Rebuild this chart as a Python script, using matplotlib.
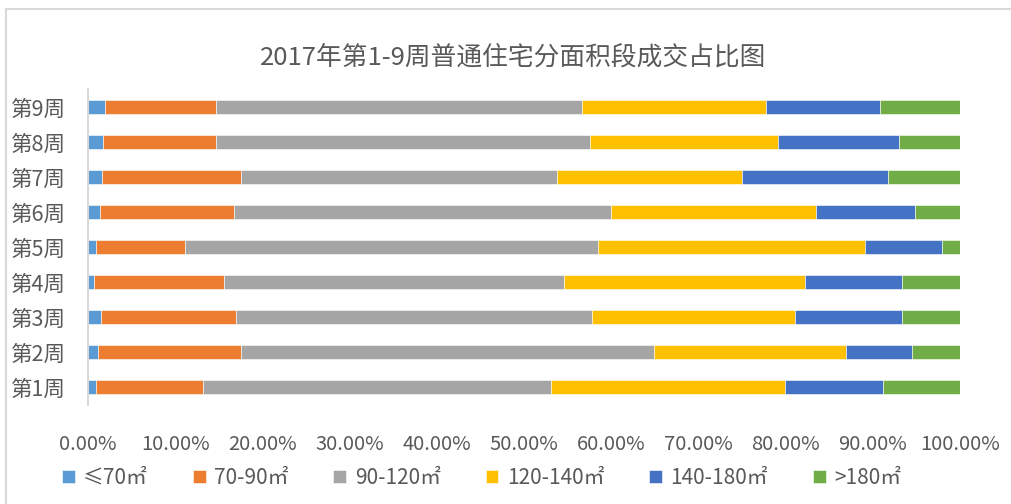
import numpy as np
import matplotlib.pyplot as plt
from matplotlib.lines import Line2D

plt.rcParams['font.family'] = ['Noto Sans CJK SC', 'DejaVu Sans']

# weeks, bottom to top
weeks = ['第1周', '第2周', '第3周', '第4周', '第5周', '第6周', '第7周', '第8周', '第9周']
series = ['≤70㎡', '70-90㎡', '90-120㎡', '120-140㎡', '140-180㎡', '>180㎡']

# shares in %, one list per area segment (week 1 .. week 9)
s_le70 = [0.9, 1.2, 1.5, 0.7, 0.9, 1.4, 1.6, 1.7, 2.0]
s_70_90 = [12.3, 16.3, 15.5, 14.9, 10.2, 15.3, 15.9, 13.0, 12.7]
s_90_120 = [39.9, 47.4, 40.8, 39.0, 47.4, 43.3, 36.3, 42.9, 41.9]
s_120_140 = [26.8, 22.0, 23.3, 27.6, 30.6, 23.5, 21.2, 21.5, 21.1]
s_140_180 = [11.3, 7.6, 12.3, 11.2, 8.8, 11.3, 16.7, 13.9, 13.1]
s_gt180 = [8.8, 5.5, 6.6, 6.6, 2.1, 5.2, 8.3, 7.0, 9.2]

colors = ['#5B9BD5', '#ED7D31', '#A5A5A5', '#FFC000', '#4472C4', '#70AD47']
txt = '#595959'

data = np.array([s_le70, s_70_90, s_90_120, s_120_140, s_140_180, s_gt180]) / 100.0
data = data / data.sum(axis=0)

fig = plt.figure(figsize=(10.11, 5.04), dpi=100)
ax = fig.add_axes([0.087, 0.197, 0.8626, 0.6255])

y = np.arange(len(weeks))
left = np.zeros(len(weeks))
for vals, name, c in zip(data, series, colors):
    ax.barh(y, vals, left=left, height=0.4, color=c, edgecolor='white',
            linewidth=0.4, label=name)
    left += vals

ax.set_xlim(0, 1)
ax.set_ylim(-0.5, len(weeks) - 0.5)
ax.set_yticks(y)
ax.set_yticklabels(weeks, fontsize=15.5, color=txt)
ax.set_xticks(np.linspace(0, 1, 11))
ax.set_xticklabels([f'{v:.2f}%' for v in np.linspace(0, 100, 11)],
                   fontsize=14.5, color=txt)
ax.tick_params(axis='x', length=0, pad=21)
ax.tick_params(axis='y', length=0, pad=16)
for side in ['top', 'right', 'bottom']:
    ax.spines[side].set_visible(False)
ax.spines['left'].set_color('#d9d9d9')
ax.spines['left'].set_linewidth(1.5)

fig.text(0.508, 0.885, '2017年第1-9周普通住宅分面积段成交占比图',
         ha='center', va='center', fontsize=18.5, color=txt)

handles, labels = ax.get_legend_handles_labels()
fig.legend(handles, labels, loc='center left', bbox_to_anchor=(62 / 1011, 0.052),
           ncol=6, frameon=False, fontsize=15, labelcolor=txt, borderpad=0,
           borderaxespad=0, handlelength=0.62, handleheight=0.62,
           handletextpad=0.4, columnspacing=2.15)

# chart frame
fig.add_artist(Line2D([6 / 1011, 6 / 1011], [0, 1 - 9 / 504], color='#d9d9d9',
                      lw=1.5, transform=fig.transFigure))
fig.add_artist(Line2D([6 / 1011, 1], [1 - 9 / 504, 1 - 9 / 504], color='#d9d9d9',
                      lw=1.5, transform=fig.transFigure))

fig.savefig('out.png', dpi=100)
